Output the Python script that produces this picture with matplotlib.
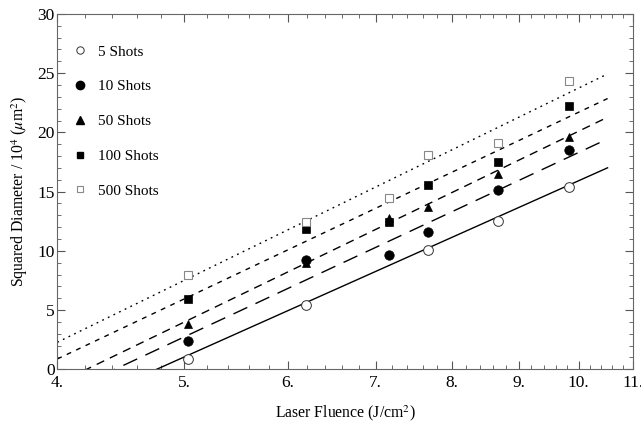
import numpy as np
import matplotlib
matplotlib.use("Agg")
import matplotlib.pyplot as plt
from matplotlib.ticker import FixedLocator, FixedFormatter, NullFormatter, MultipleLocator

plt.rcParams['font.family'] = ['Liberation Serif', 'DejaVu Serif']
plt.rcParams['mathtext.fontset'] = 'stix'

# Data
fluence = [5.03, 6.19, 7.17, 7.67, 8.67, 9.83]
labels = ["5 Shots", "10 Shots", "50 Shots", "100 Shots", "500 Shots"]
fl_5 = [5.03, 6.19, 7.67, 8.67, 9.83]
d2_5 = [0.9, 5.41, 10.08, 12.48, 15.35]
d2_10 = [2.42, 9.24, 9.64, 11.6, 15.1, 18.54]
d2_50 = [3.8, 9.0, 12.76, 13.69, 16.47, 19.58]
d2_100 = [5.9, 11.83, 12.4, 15.52, 17.52, 22.26]
d2_500 = [7.97, 12.4, 14.48, 18.06, 19.07, 24.31]
# fit lines: D^2 = y4 + slope*ln(F/4)
fit_y4 = [-3.75, -2.28, -1.20, 0.87, 2.28]
fit_slope = [21.47, 22.47, 23.25, 22.74, 23.43]
fit_xmax = 10.52

xticks = [4, 5, 6, 7, 8, 9, 10, 11]
xticklabels = ["4.", "5.", "6.", "7.", "8.", "9.", "10.", "11."]

fig = plt.figure(figsize=(6.41, 4.23), dpi=100)
ax = fig.add_axes([0.0894, 0.127, 0.8981, 0.840])
ax.set_xscale('log')

xs_series = [fl_5, fluence, fluence, fluence, fluence]
ys_series = [d2_5, d2_10, d2_50, d2_100, d2_500]
mk = [dict(marker='o', ms=7, mfc='white', mec='#333333', mew=0.7),
      dict(marker='o', ms=6.8, mfc='black', mec='black', mew=0.5),
      dict(marker='^', ms=6, mfc='black', mec='black', mew=0.5),
      dict(marker='s', ms=5.4, mfc='black', mec='black', mew=0.5),
      dict(marker='s', ms=5.4, mfc='white', mec='#888888', mew=0.8)]
dashes = [None, (11, 6.5), (6, 4.5), (3.5, 4), (1.3, 3.2)]

xf = np.linspace(4.0, fit_xmax, 200)
for i in range(5):
    yf = fit_y4[i] + fit_slope[i] * np.log(xf / 4.0)
    line, = ax.plot(xf, yf, color='black', lw=1.0)
    if dashes[i] is not None:
        line.set_dashes(dashes[i])

for i in range(5):
    ax.plot(xs_series[i], ys_series[i], ls='none', zorder=3, **mk[i])

leg_handles = []
leg_mk = [dict(marker='o', ms=5.3, mfc='white', mec='#333333', mew=0.7),
          dict(marker='o', ms=6, mfc='black', mec='black'),
          dict(marker='^', ms=5.3, mfc='black', mec='black'),
          dict(marker='s', ms=4.6, mfc='black', mec='black'),
          dict(marker='s', ms=4.6, mfc='white', mec='#888888', mew=0.8)]
for i in range(5):
    h, = ax.plot([], [], ls='none', **leg_mk[i])
    leg_handles.append(h)
ax.legend(leg_handles, labels, loc='upper left', bbox_to_anchor=(0.013, 0.93),
          frameon=False, fontsize=11, labelspacing=1.38, handletextpad=0.55,
          handlelength=1.2, borderaxespad=0.0)

ax.set_xlim(4, 11)
ax.set_ylim(0, 30)
ax.xaxis.set_major_locator(FixedLocator(xticks))
ax.xaxis.set_major_formatter(FixedFormatter(xticklabels))
ax.xaxis.set_minor_locator(FixedLocator(np.arange(4.0, 11.01, 0.2)))
ax.xaxis.set_minor_formatter(NullFormatter())
ax.yaxis.set_major_locator(MultipleLocator(5))
ax.yaxis.set_minor_locator(MultipleLocator(1))

ax.tick_params(which='both', direction='in', top=True, right=True, colors='#555555',
               labelcolor='black', labelsize=12.5)
ax.tick_params(which='major', length=6, width=0.8)
ax.tick_params(which='minor', length=3, width=0.6)
ax.tick_params(axis='x', which='both', pad=4)
ax.tick_params(axis='y', which='both', pad=2)
for s in ax.spines.values():
    s.set_color('#666666')
    s.set_linewidth(0.8)

ax.set_xlabel(r"Laser Fluence (J/cm$^2$)", fontsize=11.3, labelpad=9)
ax.set_ylabel(r"Squared Diameter / 10$^4$ ($\mu$m$^2$)", fontsize=11.3, labelpad=5)

fig.savefig("out.png", dpi=100)
